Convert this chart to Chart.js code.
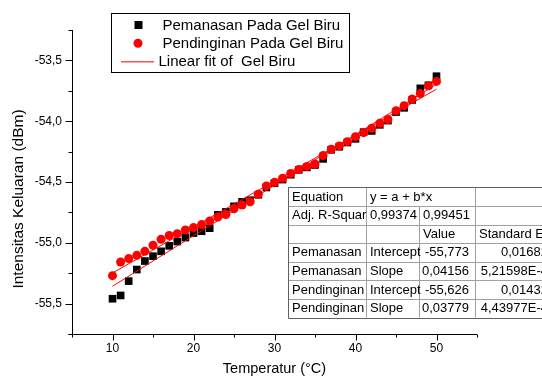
<!DOCTYPE html>
<html><head><meta charset="utf-8">
<script src="https://cdn.jsdelivr.net/npm/chart.js@4.4.0/dist/chart.umd.min.js"></script>
<style>html,body{margin:0;padding:0;background:#fff;overflow:hidden}</style>
</head><body>
<canvas id="c" width="542" height="379"></canvas>
<script>
const temperatures = [10,11,12,13,14,15,16,17,18,19,20,21,22,23,24,25,26,27,28,29,30,31,32,33,34,35,36,37,38,39,40,41,42,43,44,45,46,47,48,49,50];
const pemanasan = [-55.46,-55.433,-55.315,-55.22,-55.15,-55.11,-55.07,-55.025,-54.99,-54.957,-54.92,-54.905,-54.88,-54.77,-54.745,-54.70,-54.663,-54.65,-54.605,-54.545,-54.51,-54.48,-54.44,-54.40,-54.38,-54.36,-54.31,-54.235,-54.21,-54.175,-54.145,-54.09,-54.08,-54.03,-53.995,-53.925,-53.89,-53.825,-53.73,-53.705,-53.63];
const pendinginan = [-55.27,-55.158,-55.13,-55.103,-55.07,-55.02,-54.971,-54.94,-54.925,-54.895,-54.875,-54.85,-54.82,-54.788,-54.767,-54.72,-54.69,-54.662,-54.60,-54.532,-54.503,-54.47,-54.43,-54.397,-54.372,-54.352,-54.282,-54.231,-54.203,-54.168,-54.128,-54.094,-54.058,-54.017,-53.987,-53.915,-53.872,-53.818,-53.772,-53.709,-53.673];
const fitIntercepts = [-55.773, -55.626];
const fitSlopes = [0.04156, 0.03779];
const xTickValues = [10,20,30,40,50];
const xMinorTicks = [5,15,25,35,45,55];
const yTickValues = [-55.5,-55.0,-54.5,-54.0,-53.5];
const yMinorTicks = [-55.75,-55.25,-54.75,-54.25,-53.75,-53.25];
const legendLabels = ['Pemanasan Pada Gel Biru','Pendinginan Pada Gel Biru','Linear fit of  Gel Biru'];
const xTitle = 'Temperatur (\u00B0C)';
const yTitle = 'Intensitas Keluaran (dBm)';
const tableRows = [
  ['Equation','y = a + b*x','',''],
  ['Adj. R-Squar','0,99374','0,99451',''],
  ['','','Value','Standard Error'],
  ['Pemanasan','Intercept','-55,773','0,01682'],
  ['Pemanasan','Slope','0,04156','5,21598E-4'],
  ['Pendinginan','Intercept','-55,626','0,01432'],
  ['Pendinginan','Slope','0,03779','4,43977E-4']
];

const FAM = "'Liberation Sans', Arial, sans-serif";
function fitLine(k){
  const x0 = temperatures[0], x1 = temperatures[temperatures.length-1];
  return [{x:x0,y:fitIntercepts[k]+fitSlopes[k]*x0},{x:x1,y:fitIntercepts[k]+fitSlopes[k]*x1}];
}

const decor = {
  id:'decor',
  afterDraw(chart){
    const ctx = chart.ctx, ca = chart.chartArea, xs = chart.scales.x, ys = chart.scales.y;
    ctx.save();
    ctx.strokeStyle = '#000'; ctx.lineWidth = 1;
    ctx.beginPath();
    const L = Math.round(ca.left)+0.5, B = Math.round(ca.bottom)+0.5;
    ctx.moveTo(L, ca.top); ctx.lineTo(L, B);
    ctx.moveTo(L-4, B); ctx.lineTo(ca.right, B);
    xTickValues.forEach(v=>{const p=Math.round(xs.getPixelForValue(v))+0.5; ctx.moveTo(p,B); ctx.lineTo(p,B+6);});
    xMinorTicks.forEach(v=>{const p=Math.round(xs.getPixelForValue(v))+0.5; ctx.moveTo(p,B); ctx.lineTo(p,B+3);});
    yTickValues.forEach(v=>{const p=Math.round(ys.getPixelForValue(v))+0.5; ctx.moveTo(L,p); ctx.lineTo(L-7,p);});
    yMinorTicks.forEach(v=>{const p=Math.round(ys.getPixelForValue(v))+0.5; ctx.moveTo(L,p); ctx.lineTo(L-4,p);});
    ctx.stroke();

    // axis titles
    ctx.fillStyle = '#000';
    ctx.textAlign = 'center'; ctx.textBaseline = 'middle';
    ctx.font = '14.5px ' + FAM;
    ctx.fillText(xTitle, (ca.left+ca.right)/2, 369);
    ctx.save();
    ctx.translate(18.5, 199); ctx.rotate(-Math.PI/2);
    ctx.font = '15.5px ' + FAM;
    ctx.fillText(yTitle, 0, 0);
    ctx.restore();

    // legend
    ctx.fillStyle = '#fff';
    ctx.fillRect(112, 13, 237, 59);
    ctx.strokeStyle = '#000';
    ctx.lineWidth = 1;
    ctx.strokeRect(111.5, 13.5, 238, 59);
    ctx.fillStyle = '#000';
    ctx.fillRect(134.5, 21, 8, 8);
    ctx.fillStyle = '#ff0000';
    ctx.beginPath(); ctx.arc(138, 43.3, 4.5, 0, Math.PI*2); ctx.fill();
    ctx.fillStyle = '#ff5050';
    ctx.fillRect(121, 61, 33, 1.5);
    ctx.fillStyle = '#000';
    ctx.textAlign = 'left';
    ctx.font = '15px ' + FAM;
    ctx.fillText(legendLabels[0], 162.5, 25.5);
    ctx.fillText(legendLabels[1], 162.5, 44);
    ctx.fillText(legendLabels[2], 158.5, 62);

    // table
    const cols = [288, 366, 419, 475, 560];
    const top = 187.3, rh = 18.6;
    const nR = tableRows.length;
    ctx.fillStyle = '#fff';
    ctx.fillRect(cols[0], top, 542-cols[0], rh*nR);
    ctx.strokeStyle = '#a0a0a0';
    ctx.beginPath();
    for (let r=1;r<nR;r++){const yy=Math.round(top+r*rh)+0.5; ctx.moveTo(cols[0],yy); ctx.lineTo(560,yy);}
    for (let c=1;c<4;c++){
      const xx = cols[c]+0.5;
      const startRow = (c===2)?1:0;
      ctx.moveTo(xx, top+startRow*rh); ctx.lineTo(xx, top+nR*rh);
    }
    ctx.stroke();
    ctx.strokeStyle = '#606060';
    ctx.beginPath();
    ctx.moveTo(cols[0]+0.5, Math.round(top+nR*rh)+0.5); ctx.lineTo(cols[0]+0.5, Math.round(top)+0.5); ctx.lineTo(560, Math.round(top)+0.5);
    ctx.moveTo(cols[0]+0.5, Math.round(top+nR*rh)+0.5); ctx.lineTo(560, Math.round(top+nR*rh)+0.5);
    ctx.stroke();
    ctx.fillStyle = '#000';
    ctx.font = '13px ' + FAM;
    ctx.textBaseline = 'middle';
    tableRows.forEach((row, r)=>{
      const cy = top + r*rh + rh/2 + 0.5;
      row.forEach((txt, c)=>{
        if (!txt) return;
        const rightAlign = (r>=3 && c>=2);
        if (rightAlign){ ctx.textAlign='right'; ctx.fillText(txt, (c===2?cols[3]-6:548), cy); }
        else { ctx.textAlign='left'; ctx.fillText(txt, cols[c]+4, cy); }
      });
    });
    ctx.restore();
  }
};

new Chart(document.getElementById('c'), {
  type:'scatter',
  data:{datasets:[
    {label:legendLabels[2], data:fitLine(0), showLine:true, borderColor:'#ff0000', borderWidth:1, pointRadius:0, order:0},
    {label:legendLabels[2], data:fitLine(1), showLine:true, borderColor:'#ff0000', borderWidth:1, pointRadius:0, order:0},
    {label:legendLabels[1], data:temperatures.map((t,i)=>({x:t,y:pendinginan[i]})), pointStyle:'circle', pointRadius:4.5, pointBackgroundColor:'#ff0000', pointBorderWidth:0, order:1},
    {label:legendLabels[0], data:temperatures.map((t,i)=>({x:t,y:pemanasan[i]})), pointStyle:'rect', pointRadius:5.4, pointBackgroundColor:'#000000', pointBorderWidth:0, order:2}
  ]},
  options:{
    responsive:false, animation:false, devicePixelRatio:1,
    layout:{padding:{top:30,right:65,bottom:0,left:0}},
    plugins:{legend:{display:false}, tooltip:{enabled:false}},
    scales:{
      x:{type:'linear', min:5, max:55,
        afterBuildTicks:s=>{s.ticks=xTickValues.map(v=>({value:v}));},
        afterFit:s=>{s.height=45;},
        grid:{display:true, drawOnChartArea:false, color:'rgba(0,0,0,0)', tickLength:6},
        border:{display:false},
        ticks:{color:'#000', font:{family:FAM, size:12}, padding:1, maxRotation:0, autoSkip:false, callback:v=>String(v)}
      },
      y:{type:'linear', min:-55.75, max:-53.25,
        afterBuildTicks:s=>{s.ticks=yTickValues.map(v=>({value:v}));},
        afterFit:s=>{s.width=72;},
        grid:{display:true, drawOnChartArea:false, color:'rgba(0,0,0,0)', tickLength:7},
        border:{display:false},
        ticks:{color:'#000', font:{family:FAM, size:12}, padding:3, autoSkip:false, callback:v=>Number(v).toFixed(1).replace('.',',')}
      }
    }
  },
  plugins:[decor]
});
</script>
</body></html>
